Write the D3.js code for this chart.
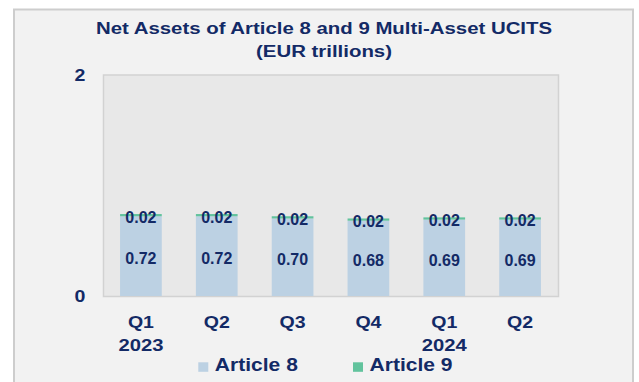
<!DOCTYPE html>
<html>
<head>
<meta charset="utf-8">
<script src="https://cdn.jsdelivr.net/npm/d3@7/dist/d3.min.js"></script>
<style>
  html, body { margin: 0; padding: 0; background: #ffffff; }
  svg { display: block; }
  text { font-family: "Liberation Sans", Arial, sans-serif; font-weight: bold; fill: #132a66; }
</style>
</head>
<body>
<svg id="chart" width="639" height="382"></svg>
<script>
// Quarterly net assets, EUR trillions
const quarters = ["Q1", "Q2", "Q3", "Q4", "Q1", "Q2"];
const years = ["2023", "", "", "", "2024", ""];
const article8 = [0.72, 0.72, 0.70, 0.68, 0.69, 0.69];
const article9 = [0.02, 0.02, 0.02, 0.02, 0.02, 0.02];
const yTicks = [0, 2];
const seriesNames = ["Article 8", "Article 9"];
const colors = ["#bcd1e3", "#62c39d"];

const svg = d3.select("#chart");
const WIDE = 1.2; // horizontal stretch of the wide display lettering

// Text helper: places a label and widens it horizontally
function label(parent, x, y, str, size, anchor, wide = WIDE) {
  return parent.append("text")
    .attr("transform", `translate(${x},${y}) scale(${wide},1)`)
    .attr("text-anchor", anchor)
    .style("font-size", size + "px")
    .text(str);
}

// Outer frame
svg.append("rect")
  .attr("x", 14).attr("y", 9.5)
  .attr("width", 619).attr("height", 380)
  .attr("fill", "#f2f2f2").attr("stroke", "#cdcdcd").attr("stroke-width", 2);

// Title
label(svg, 324, 34.3, "Net Assets of Article 8 and 9 Multi-Asset UCITS", 17, "middle");
label(svg, 324, 57, "(EUR trillions)", 17, "middle");

const plot = { left: 103, right: 558, top: 74.5, bottom: 296 };

const x = d3.scaleBand()
  .domain(d3.range(quarters.length))
  .range([plot.left, plot.right])
  .paddingInner(0.45).paddingOuter(0.225);

const y = d3.scaleLinear().domain([0, 2]).range([plot.bottom, plot.top]);

// Plot area
svg.append("rect")
  .attr("x", plot.left + 0.5).attr("y", plot.top + 0.5)
  .attr("width", plot.right - plot.left).attr("height", plot.bottom - plot.top)
  .attr("fill", "#e8e8e8").attr("stroke", "#d2d2d2").attr("stroke-width", 1.5);

// Stacked bars
const stackData = quarters.map((q, i) => ({ i, a8: article8[i], a9: article9[i] }));
const stacked = d3.stack().keys(["a8", "a9"])(stackData);

stacked.forEach((layer, k) => {
  svg.append("g").selectAll("rect")
    .data(layer).join("rect")
    .attr("x", d => x(d.data.i))
    .attr("width", x.bandwidth())
    .attr("y", d => y(d[1]))
    .attr("height", d => y(d[0]) - y(d[1]))
    .attr("fill", colors[k]);
});

// Value labels
svg.append("g").selectAll("text")
  .data(stackData).join("text")
  .attr("x", d => x(d.i) + x.bandwidth() / 2)
  .attr("y", d => y(d.a8 / 2) + 8)
  .attr("text-anchor", "middle").style("font-size", "16px")
  .text(d => d.a8.toFixed(2));

svg.append("g").selectAll("text")
  .data(stackData).join("text")
  .attr("x", d => x(d.i) + x.bandwidth() / 2)
  .attr("y", d => y(d.a8 + d.a9) + 8.5)
  .attr("text-anchor", "middle").style("font-size", "16px")
  .text(d => d.a9.toFixed(2));

// Y axis tick labels
const yg = svg.append("g");
yTicks.forEach(t => label(yg, 80, y(t) + 6, String(t), 17, "middle", 1.15));

// X axis labels
const xg = svg.append("g");
quarters.forEach((q, i) => {
  const cx = x(i) + x.bandwidth() / 2;
  label(xg, cx, 327.7, q, 17, "middle", 1.15);
  if (years[i]) label(xg, cx, 350.7, years[i], 17, "middle", 1.19);
});

// Legend
const legendX = [198.3, 353];
const lg = svg.append("g");
seriesNames.forEach((name, i) => {
  lg.append("rect")
    .attr("x", legendX[i]).attr("y", 362.3)
    .attr("width", 10).attr("height", 9.5)
    .attr("fill", colors[i]);
  label(lg, legendX[i] + 16.5, 371, name, 17.7, "start", 1.19);
});
</script>
</body>
</html>
